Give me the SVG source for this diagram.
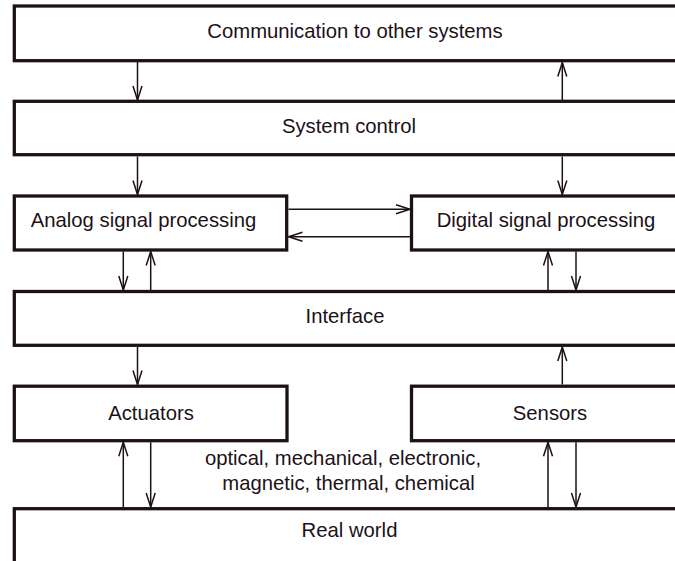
<svg xmlns="http://www.w3.org/2000/svg" width="675" height="561" viewBox="0 0 675 561">
<style>
.box{fill:#ffffff;stroke:#1c1119;stroke-width:3.3}
.lbl{font-family:"Liberation Sans",Arial,sans-serif;font-size:20.3px;fill:#1c1119;text-anchor:middle}
.con{stroke:#1c1119;stroke-width:1.5;fill:none;marker-end:url(#arr)}
</style>
<defs>
<marker id="arr" markerUnits="userSpaceOnUse" markerWidth="20" markerHeight="12" viewBox="-16 -6 18 12" refX="0" refY="0" orient="auto">
<path d="M-14,-4.5 L0,0 L-14,4.5" fill="none" stroke="#1c1119" stroke-width="1.5"/>
</marker>
</defs>
<rect width="675" height="561" fill="#ffffff"/>
<g id="comm"><rect class="box" x="14.3" y="6" width="700" height="54.7"/><text class="lbl" x="355" y="38">Communication to other systems</text></g>
<g id="sysctl"><rect class="box" x="14.3" y="101.3" width="700" height="53.4"/><text class="lbl" x="349" y="133">System control</text></g>
<g id="analog"><rect class="box" x="14.3" y="196" width="272.4" height="54"/><text class="lbl" x="143.5" y="227">Analog signal processing</text></g>
<g id="digital"><rect class="box" x="411.5" y="196" width="300" height="54"/><text class="lbl" x="546" y="227">Digital signal processing</text></g>
<g id="interface"><rect class="box" x="14.3" y="291.5" width="700" height="53.8"/><text class="lbl" x="345" y="323">Interface</text></g>
<g id="actuators"><rect class="box" x="14.3" y="386.2" width="272.7" height="54.5"/><text class="lbl" x="151" y="420">Actuators</text></g>
<g id="sensors"><rect class="box" x="411.5" y="386.2" width="300" height="54.5"/><text class="lbl" x="550" y="420">Sensors</text></g>
<g id="realworld"><rect class="box" x="14.3" y="508.7" width="700" height="100"/><text class="lbl" x="349.5" y="537">Real world</text></g>
<g id="physical-label"><text class="lbl" x="343" y="465">optical, mechanical, electronic,</text><text class="lbl" x="348.5" y="490">magnetic, thermal, chemical</text></g>
<g id="connectors">
<line class="con" x1="137.5" y1="62" x2="137.5" y2="100"/>
<line class="con" x1="562.3" y1="100" x2="562.3" y2="62.5"/>
<line class="con" x1="137.5" y1="156.5" x2="137.5" y2="194.5"/>
<line class="con" x1="562.3" y1="156.5" x2="562.3" y2="194.5"/>
<line class="con" x1="288.5" y1="209.3" x2="410" y2="209.3"/>
<line class="con" x1="410" y1="236.7" x2="288.5" y2="236.7"/>
<line class="con" x1="123.3" y1="251.5" x2="123.3" y2="290"/>
<line class="con" x1="150.7" y1="290" x2="150.7" y2="251.5"/>
<line class="con" x1="548" y1="290" x2="548" y2="251.5"/>
<line class="con" x1="576" y1="251.5" x2="576" y2="290"/>
<line class="con" x1="137.5" y1="347" x2="137.5" y2="384.5"/>
<line class="con" x1="562.3" y1="384.5" x2="562.3" y2="347"/>
<line class="con" x1="123.3" y1="507" x2="123.3" y2="442.3"/>
<line class="con" x1="150.7" y1="442.3" x2="150.7" y2="507"/>
<line class="con" x1="548" y1="507" x2="548" y2="442.3"/>
<line class="con" x1="576" y1="442.3" x2="576" y2="507"/>
</g>
</svg>
